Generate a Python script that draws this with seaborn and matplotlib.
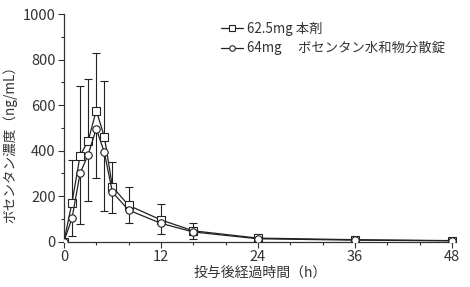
import numpy as np
import pandas as pd
import matplotlib
matplotlib.use("Agg")
import matplotlib.pyplot as plt
import seaborn as sns

hours = [0, 1, 2, 3, 4, 5, 6, 8, 12, 16, 24, 36, 48]
tablet = [0, 171, 378, 442, 576, 461, 241, 159, 95, 47, 15, 8, 4]
tablet_sd = [0, 189, 307, 271, 251, 245, 109, 82, 68, 33, 6, 4, 2]
dispersible = [0, 102, 300, 382, 496, 392, 217, 138, 80, 42, 12, 6, 3]
dispersible_sd = [0, 79, 221, 204, 218, 256, 92, 58, 48, 29, 5, 3, 2]

label_a = "62.5mg 本剤"
label_b = "64mg\u3000 ボセンタン水和物分散錠"

x_ticks = [0, 12, 24, 36, 48]
y_ticks = [0, 200, 400, 600, 800, 1000]

df = pd.DataFrame({
    "time": hours + hours,
    "conc": tablet + dispersible,
    "group": [label_a] * len(hours) + [label_b] * len(hours),
})

sns.set_theme(style="ticks")
plt.rcParams["font.family"] = ["Noto Sans CJK JP", "DejaVu Sans"]

fig = plt.figure(figsize=(4.70, 2.87), dpi=100)
ax = fig.add_axes([0.136, 0.1585, 0.834, 0.7925])

ax.errorbar(hours, tablet, yerr=[np.zeros(len(hours)), tablet_sd],
            fmt="none", ecolor="#222222", elinewidth=0.8, capsize=2.8, capthick=0.8, zorder=1)
ax.errorbar(hours, dispersible, yerr=[dispersible_sd, np.zeros(len(hours))],
            fmt="none", ecolor="#222222", elinewidth=0.8, capsize=2.8, capthick=0.8, zorder=1)

sns.lineplot(data=df, x="time", y="conc", hue="group", style="group",
             markers={label_a: "s", label_b: "o"}, dashes=False,
             palette={label_a: "#222222", label_b: "#222222"},
             markersize=5.3, markerfacecolor="white", markeredgecolor="#222222",
             markeredgewidth=0.8, linewidth=0.9, ax=ax, zorder=3)

ax.set_xlim(0, 48.5)
ax.set_ylim(0, 1000)
ax.set_xticks(x_ticks)
ax.set_yticks(y_ticks)
ax.set_xticks(np.arange(0, 49, 4), minor=True)
ax.set_yticks(np.arange(0, 1001, 100), minor=True)
ax.tick_params(axis="both", which="major", labelsize=10.5, length=4, width=0.8,
               color="#333333", labelcolor="#333333", pad=2)
ax.tick_params(axis="both", which="minor", length=2.5, width=0.8, color="#333333")
for s in ["left", "bottom"]:
    ax.spines[s].set_color("#333333")
    ax.spines[s].set_linewidth(0.9)
sns.despine(ax=ax)

ax.set_xlabel("投与後経過時間（h）", fontsize=10, color="#333333", labelpad=1)
ax.set_ylabel("ボセンタン濃度（ng/mL）", fontsize=9.8, color="#333333", labelpad=2)
ax.yaxis.set_label_coords(-0.118, 0.44)

leg = ax.legend(loc="upper left", bbox_to_anchor=(0.388, 0.99), frameon=False,
                fontsize=9.6, handlelength=1.6, handletextpad=0.3, labelspacing=0.4,
                borderaxespad=0, markerscale=0.75)
for t in leg.get_texts():
    t.set_color("#333333")

fig.savefig("out.png", dpi=100)
